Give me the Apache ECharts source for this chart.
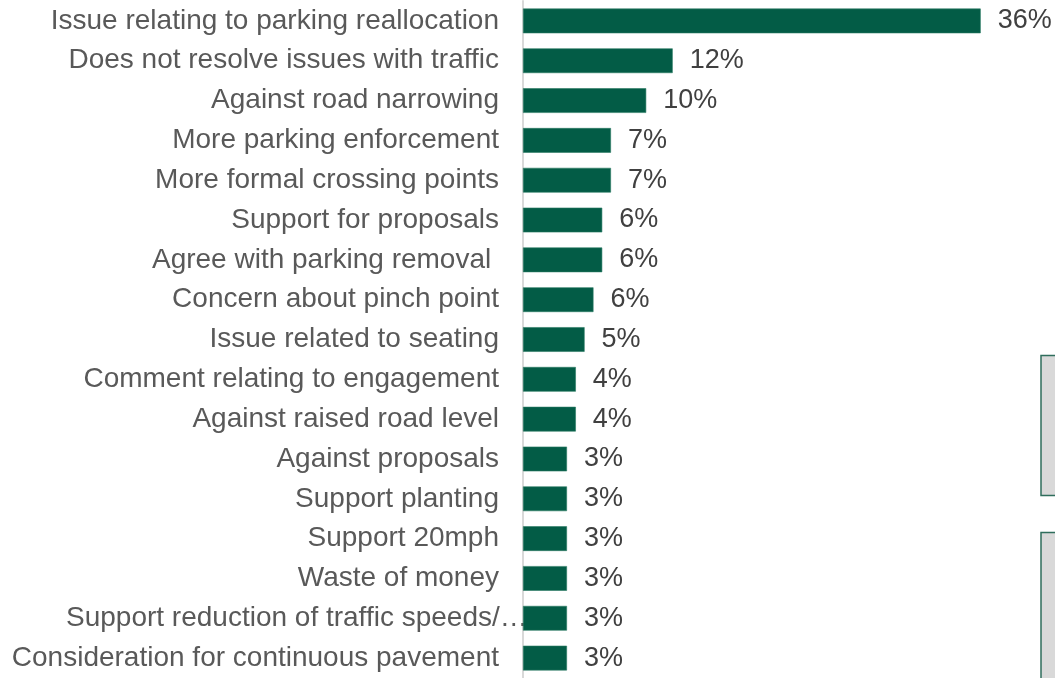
<!DOCTYPE html>
<html>
<head>
<meta charset="utf-8">
<script src="https://cdn.jsdelivr.net/npm/echarts@6/dist/echarts.min.js"></script>
<style>
  html, body { margin: 0; padding: 0; background: #ffffff; }
  #chart { width: 1055px; height: 678px; }
</style>
</head>
<body>
<div id="chart"></div>
<script>
// Response themes, listed top to bottom
const categories = [
  'Issue relating to parking reallocation',
  'Does not resolve issues with traffic',
  'Against road narrowing',
  'More parking enforcement',
  'More formal crossing points',
  'Support for proposals',
  'Agree with parking removal ',
  'Concern about pinch point',
  'Issue related to seating',
  'Comment relating to engagement',
  'Against raised road level',
  'Against proposals',
  'Support planting',
  'Support 20mph',
  'Waste of money',
  'Support reduction of traffic speeds/\u2026',
  'Consideration for continuous pavement'
];

// Share of respondents mentioning each theme (%)
const shares = [36.11, 11.81, 9.72, 6.94, 6.94, 6.25, 6.25, 5.56, 4.86, 4.17, 4.17, 3.47, 3.47, 3.47, 3.47, 3.47, 3.47];

const FONT = 'Liberation Sans, Arial, sans-serif';
const chart = echarts.init(document.getElementById('chart'), null, { renderer: 'canvas' });

// The clipped label runs past the label column up to the axis line
const clipped = categories[15];

chart.setOption({
  animation: false,
  backgroundColor: '#ffffff',
  grid: { left: 523, top: 1, width: 507, height: 683, containLabel: false },
  xAxis: {
    type: 'value',
    min: 0,
    max: 40,
    show: false
  },
  yAxis: {
    type: 'category',
    inverse: true,
    data: categories,
    axisLine: { show: true, lineStyle: { color: '#d9d9d9', width: 2 } },
    axisTick: { show: false },
    axisLabel: {
      margin: 24,
      color: '#595959',
      fontFamily: FONT,
      fontSize: 28,
      formatter: v => v === clipped ? '{long|' + v + '}' : v,
      rich: {
        long: {
          color: '#595959',
          fontFamily: FONT,
          fontSize: 28,
          width: 433,
          align: 'left'
        }
      }
    }
  },
  series: [{
    type: 'bar',
    data: shares,
    barCategoryGap: '38%',
    itemStyle: { color: '#035c46', borderColor: '#2a7a63', borderWidth: 0.6 },
    label: {
      show: true,
      position: 'right',
      distance: 17,
      color: '#404040',
      fontFamily: FONT,
      fontSize: 27,
      formatter: p => Math.round(p.value) + '%'
    }
  }],
  graphic: [
    {
      type: 'rect',
      shape: { x: 1041, y: 355.5, width: 30, height: 140 },
      style: { fill: '#d9d9d9', stroke: '#2f6e5c', lineWidth: 1.5 }
    },
    {
      type: 'rect',
      shape: { x: 1041, y: 532.5, width: 30, height: 160 },
      style: { fill: '#d9d9d9', stroke: '#2f6e5c', lineWidth: 1.5 }
    }
  ]
});
</script>
</body>
</html>
